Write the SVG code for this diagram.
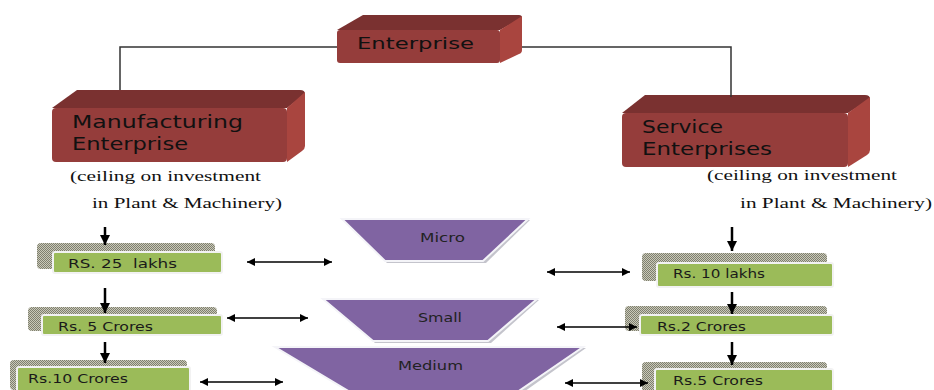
<svg xmlns="http://www.w3.org/2000/svg" width="934" height="390" viewBox="0 0 934 390">
<defs>
<pattern id="hatch" width="2" height="2" patternUnits="userSpaceOnUse">
<rect width="2" height="2" fill="#c9c9b9"/>
<rect width="1" height="1" fill="#7f7f6f"/>
<rect x="1" y="1" width="1" height="1" fill="#7f7f6f"/>
</pattern>
<marker id="ah" viewBox="0 0 10 10" refX="10" refY="5" markerWidth="11" markerHeight="8" markerUnits="userSpaceOnUse" orient="auto-start-reverse">
<path d="M0,0 L10,5 L0,10 z" fill="#000"/>
</marker>
<marker id="dh" viewBox="0 0 10 10" refX="10" refY="5" markerWidth="10" markerHeight="11" markerUnits="userSpaceOnUse" orient="auto">
<path d="M0,0 L10,5 L0,10 z" fill="#000"/>
</marker>
</defs>
<style>
.front{fill:#953d3b}
.top{fill:#7a3130}
.side{fill:#a9453f}
.rt{font-family:"DejaVu Sans",Verdana,sans-serif;fill:#111}
.sr{font-family:"Liberation Serif","Times New Roman",serif;font-size:15px;fill:#111}
.sh{fill:url(#hatch)}
.gr{fill:#9bbb59;stroke:#f2f2f2;stroke-width:2}
.gt{font-family:"DejaVu Sans",Verdana,sans-serif;font-size:12px;fill:#1a1a1a}
.tz{fill:#8064a2;stroke:#f4f4f8;stroke-width:2}
.tzs{fill:#c4c4cc}
.tt{font-family:"DejaVu Sans",Verdana,sans-serif;font-size:12px;fill:#222}
.ln{stroke:#333;stroke-width:1.5;fill:none}
.da{stroke:#000;stroke-width:1.6;fill:none;marker-start:url(#ah);marker-end:url(#ah)}
.va{stroke:#000;stroke-width:2.5;fill:none;marker-end:url(#dh)}
</style>

<g id="enterprise">
<path class="top" d="M337,30 L363,15 L519,15 Q522,15 522,18 L500,30 z"/>
<path class="side" d="M500,30 L522,16 L522,50 Q522,53 519,54 L500,63 z"/>
<rect class="front" x="337" y="30" width="163" height="33" rx="3"/>
<text class="rt" x="357" y="49" font-size="15" textLength="117" lengthAdjust="spacingAndGlyphs">Enterprise</text>
</g>

<g id="manufacturing">
<path class="top" d="M52,108 L77,90 L300,90 Q305,90 305,94 L287,108 z"/>
<path class="side" d="M287,108 L305,92 L305,146 Q305,149 302,151 L287,162 z"/>
<rect class="front" x="52" y="108" width="235" height="54" rx="4"/>
<text class="rt" x="72" y="128" font-size="18" textLength="171" lengthAdjust="spacingAndGlyphs">Manufacturing</text>
<text class="rt" x="72" y="150" font-size="18" textLength="116" lengthAdjust="spacingAndGlyphs">Enterprise</text>
<text class="sr" x="70" y="181" textLength="191" lengthAdjust="spacingAndGlyphs">(ceiling on investment</text>
<text class="sr" x="92" y="208" textLength="190" lengthAdjust="spacingAndGlyphs">in Plant &amp; Machinery)</text>
</g>

<g id="service">
<path class="top" d="M622,113 L645,95 L865,95 Q870,95 870,99 L848,113 z"/>
<path class="side" d="M848,113 L870,97 L870,150 Q870,153 867,155 L848,167 z"/>
<rect class="front" x="622" y="113" width="226" height="54" rx="4"/>
<text class="rt" x="642" y="133" font-size="18" textLength="81" lengthAdjust="spacingAndGlyphs">Service</text>
<text class="rt" x="642" y="155" font-size="18" textLength="130" lengthAdjust="spacingAndGlyphs">Enterprises</text>
<text class="sr" x="707" y="180" textLength="190" lengthAdjust="spacingAndGlyphs">(ceiling on investment</text>
<text class="sr" x="740" y="208" textLength="192" lengthAdjust="spacingAndGlyphs">in Plant &amp; Machinery)</text>
</g>

<g id="m-micro">
<rect class="sh" x="37" y="243" width="178" height="26" rx="4"/>
<rect class="gr" x="53" y="252" width="169" height="21" rx="2"/>
<text class="gt" x="68" y="268" xml:space="preserve" textLength="109" lengthAdjust="spacingAndGlyphs">RS. 25  lakhs</text>
</g>
<g id="m-small">
<rect class="sh" x="28" y="307" width="189" height="24" rx="4"/>
<rect class="gr" x="42" y="315" width="180" height="20" rx="2"/>
<text class="gt" x="58" y="331" textLength="95" lengthAdjust="spacingAndGlyphs">Rs. 5 Crores</text>
</g>
<g id="m-medium">
<rect class="sh" x="10" y="360" width="177" height="30" rx="4"/>
<rect class="gr" x="17" y="367" width="173" height="30" rx="2"/>
<text class="gt" x="28" y="383" textLength="100" lengthAdjust="spacingAndGlyphs">Rs.10 Crores</text>
</g>

<g id="s-micro">
<rect class="sh" x="642" y="253" width="185" height="28" rx="4"/>
<rect class="gr" x="657" y="263" width="176" height="24" rx="2"/>
<text class="gt" x="673" y="278" textLength="92" lengthAdjust="spacingAndGlyphs">Rs. 10 lakhs</text>
</g>
<g id="s-small">
<rect class="sh" x="625" y="306" width="202" height="25" rx="4"/>
<rect class="gr" x="640" y="315" width="193" height="20" rx="2"/>
<text class="gt" x="657" y="331" textLength="89" lengthAdjust="spacingAndGlyphs">Rs.2 Crores</text>
</g>
<g id="s-medium">
<rect class="sh" x="642" y="362" width="185" height="30" rx="4"/>
<rect class="gr" x="655" y="369" width="178" height="30" rx="2"/>
<text class="gt" x="673" y="385" textLength="90" lengthAdjust="spacingAndGlyphs">Rs.5 Crores</text>
</g>

<g id="micro">
<polygon class="tzs" points="344,220 530,220 486,263 387,263"/>
<polygon class="tz" points="342,219 528,219 483,261 385,261"/>
<text class="tt" x="420" y="242" textLength="45" lengthAdjust="spacingAndGlyphs">Micro</text>
</g>
<g id="small">
<polygon class="tzs" points="325,300 539,300 491,343 375,343"/>
<polygon class="tz" points="323,299 537,299 488,341 373,341"/>
<text class="tt" x="418" y="322" textLength="44" lengthAdjust="spacingAndGlyphs">Small</text>
</g>
<g id="medium">
<polygon class="tzs" points="277,348 586,348 518,396 357,396"/>
<polygon class="tz" points="275,347 583,347 513,395 355,395"/>
<text class="tt" x="398" y="370" textLength="65" lengthAdjust="spacingAndGlyphs">Medium</text>
</g>

<g id="connectors">
<polyline class="ln" points="120,90 120,47 337,47"/>
<polyline class="ln" points="522,47 731,47 731,97"/>
<line class="va" x1="105" y1="227" x2="105" y2="245"/>
<line class="va" x1="105" y1="288" x2="105" y2="313"/>
<line class="va" x1="105" y1="342" x2="105" y2="363"/>
<line class="va" x1="732" y1="227" x2="732" y2="251"/>
<line class="va" x1="732" y1="292" x2="732" y2="314"/>
<line class="va" x1="732" y1="342" x2="732" y2="365"/>
<line class="da" x1="247" y1="262" x2="332" y2="262"/>
<line class="da" x1="227" y1="318" x2="308" y2="318"/>
<line class="da" x1="200" y1="382" x2="283" y2="382"/>
<line class="da" x1="547" y1="272" x2="630" y2="272"/>
<line class="da" x1="557" y1="327" x2="637" y2="327"/>
<line class="da" x1="565" y1="383" x2="648" y2="383"/>
</g>
</svg>
